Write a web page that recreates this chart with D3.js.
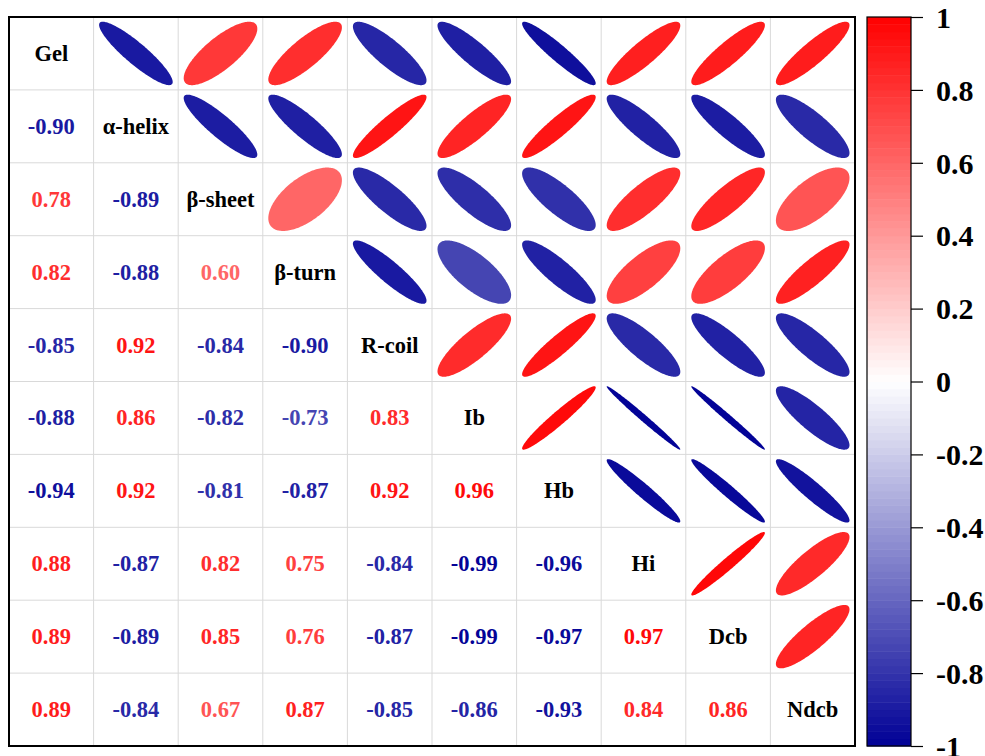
<!DOCTYPE html>
<html>
<head>
<meta charset="utf-8">
<script src="https://cdn.jsdelivr.net/npm/d3@7"></script>
<style>
  html, body { margin: 0; padding: 0; background: #fff; }
  svg { display: block; }
</style>
</head>
<body>
<svg id="chart" width="985" height="756"></svg>
<script>
// Variables shown along the diagonal
const variables = ["Gel", "α-helix", "β-sheet", "β-turn", "R-coil", "Ib", "Hb", "Hi", "Dcb", "Ndcb"];

// Lower-triangle correlation coefficients, one row per variable (row i holds r(i, 0..i-1))
const lowerRows = [
  [],
  [-0.90],
  [0.78, -0.89],
  [0.82, -0.88, 0.60],
  [-0.85, 0.92, -0.84, -0.90],
  [-0.88, 0.86, -0.82, -0.73, 0.83],
  [-0.94, 0.92, -0.81, -0.87, 0.92, 0.96],
  [0.88, -0.87, 0.82, 0.75, -0.84, -0.99, -0.96],
  [0.89, -0.89, 0.85, 0.76, -0.87, -0.99, -0.97, 0.97],
  [0.89, -0.84, 0.67, 0.87, -0.85, -0.86, -0.93, 0.84, 0.86]
];

// Colour bar tick values
const legendTicks = [1, 0.8, 0.6, 0.4, 0.2, 0, -0.2, -0.4, -0.6, -0.8, -1];

const svg = d3.select("#chart");
const n = variables.length;

const grid = { left: 9, top: 17, right: 855, bottom: 746 };
const x = d3.scaleBand().domain(d3.range(n)).range([grid.left, grid.right]).padding(0);
const y = d3.scaleBand().domain(d3.range(n)).range([grid.top, grid.bottom]).padding(0);
const cw = x.bandwidth(), ch = y.bandwidth();

const color = d3.scaleLinear()
  .domain([-1, 0, 1])
  .range(["#000096", "#ffffff", "#ff0000"])
  .interpolate(d3.interpolateRgb);

// Plain hyphen for negative values
const fmt = v => d3.format(".2f")(v).replace("\u2212", "-");
const font = "'Liberation Serif', 'Times New Roman', serif";

// Full symmetric matrix built from the lower triangle
const cells = [];
for (let i = 0; i < n; i++) {
  for (let j = 0; j < n; j++) {
    let r = null;
    if (i > j) r = lowerRows[i][j];
    else if (j > i) r = lowerRows[j][i];
    cells.push({ i, j, r });
  }
}

// Grid lines
const gridG = svg.append("g").attr("stroke", "#d9d9d9").attr("stroke-width", 1);
d3.range(1, n).forEach(k => {
  gridG.append("line").attr("x1", x(k)).attr("x2", x(k)).attr("y1", grid.top).attr("y2", grid.bottom);
  gridG.append("line").attr("y1", y(k)).attr("y2", y(k)).attr("x1", grid.left).attr("x2", grid.right);
});

// Ellipse outline for correlation r: x = cos(t + d/2), y = cos(t - d/2), d = acos(r)
const ts = d3.range(0, 2 * Math.PI, Math.PI / 90);
const ellipsePath = (r, sx, sy) => {
  const d = Math.acos(Math.max(-1, Math.min(1, r)));
  const pts = ts.map(t => [sx * Math.cos(t + d / 2), -sy * Math.cos(t - d / 2)]);
  return d3.line().curve(d3.curveLinearClosed)(pts);
};

const sx = cw * 0.435, sy = ch * 0.435;

// Upper triangle: ellipses
svg.append("g").selectAll("path")
  .data(cells.filter(c => c.j > c.i))
  .join("path")
  .attr("transform", c => `translate(${x(c.j) + cw / 2},${y(c.i) + ch / 2})`)
  .attr("d", c => ellipsePath(c.r, sx, sy))
  .attr("fill", c => color(c.r));

// Lower triangle: coefficients
svg.append("g").selectAll("text")
  .data(cells.filter(c => c.i > c.j))
  .join("text")
  .attr("x", c => x(c.j) + cw / 2)
  .attr("y", c => y(c.i) + ch / 2)
  .attr("text-anchor", "middle")
  .attr("dominant-baseline", "central")
  .attr("font-family", font)
  .attr("font-weight", "bold")
  .attr("font-size", 22.5)
  .attr("fill", c => color(c.r))
  .text(c => fmt(c.r));

// Diagonal: variable names
svg.append("g").selectAll("text")
  .data(variables)
  .join("text")
  .attr("x", (v, k) => x(k) + cw / 2)
  .attr("y", (v, k) => y(k) + ch / 2)
  .attr("text-anchor", "middle")
  .attr("dominant-baseline", "central")
  .attr("font-family", font)
  .attr("font-weight", "bold")
  .attr("font-size", 22.5)
  .attr("fill", "#000")
  .text(v => v);

// Frame
svg.append("rect")
  .attr("x", grid.left).attr("y", grid.top)
  .attr("width", grid.right - grid.left).attr("height", grid.bottom - grid.top)
  .attr("fill", "none").attr("stroke", "#000").attr("stroke-width", 2);

// Colour bar
const bar = { left: 867, right: 911, top: 17, bottom: 746 };
const ly = d3.scaleLinear().domain([-1, 1]).range([bar.bottom, bar.top]);
const bands = 100;
const step = 2 / bands;
svg.append("g").selectAll("rect")
  .data(d3.range(bands).map(k => -1 + k * step))
  .join("rect")
  .attr("x", bar.left)
  .attr("width", bar.right - bar.left)
  .attr("y", v => ly(v + step))
  .attr("height", v => ly(v) - ly(v + step) + 0.5)
  .attr("fill", v => color(v + step / 2));

svg.append("rect")
  .attr("x", bar.left).attr("y", bar.top)
  .attr("width", bar.right - bar.left).attr("height", bar.bottom - bar.top)
  .attr("fill", "none").attr("stroke", "#000").attr("stroke-width", 1.2);

const axis = d3.axisRight(ly).tickValues(legendTicks).tickSize(12).tickPadding(13)
  .tickFormat(d => String(+d.toFixed(1)));
const axG = svg.append("g").attr("transform", `translate(${bar.right},0)`).call(axis);
axG.select(".domain").remove();
axG.selectAll(".tick line").attr("stroke", "#000").attr("stroke-width", 1.2);
axG.selectAll(".tick text")
  .attr("font-family", font)
  .attr("font-weight", "bold")
  .attr("font-size", 30)
  .attr("fill", "#000")
  .attr("dy", "0.34em");
</script>
</body>
</html>
